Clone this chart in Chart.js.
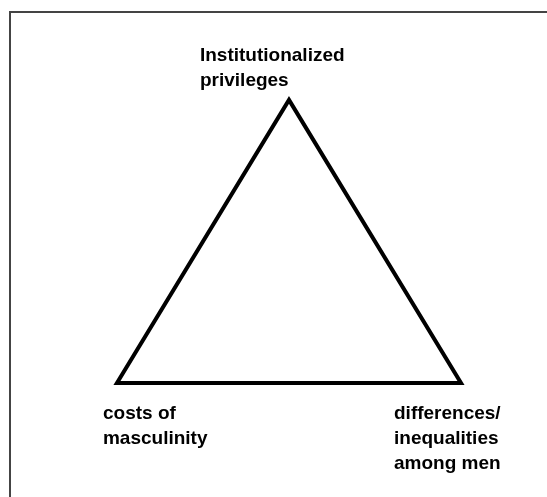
<!DOCTYPE html>
<html>
<head>
<meta charset="utf-8">
<script src="https://cdn.jsdelivr.net/npm/chart.js@4"></script>
<style>
  body { margin: 0; background: #fff; }
  #wrap { position: relative; width: 547px; height: 497px; }
</style>
</head>
<body>
<div id="wrap"><canvas id="mycanvas" width="547" height="497"></canvas></div>
<script>
// triangle corners (apex, bottom right, bottom left) in diagram units
var cornerNames = ['apex', 'right', 'left'];
var cornerX = [0, 1, -1];
var cornerY = [1, 0, 0];
// text at each corner, one entry per line
var cornerLabels = [
  ['Institutionalized', 'privileges'],
  ['differences/', 'inequalities', 'among men'],
  ['costs of', 'masculinity']
];

// offsets of each label block from its corner (px)
var labelOffset = {
  apex: { dx: -89, dy: -39 },
  right: { dx: -67, dy: 36 },
  left: { dx: -14, dy: 36 }
};

var points = [];
for (var i = 0; i < cornerX.length; i++) {
  points.push({ x: cornerX[i], y: cornerY[i] });
}
// go round once more so every corner gets a proper join
points.push({ x: cornerX[0], y: cornerY[0] });
points.push({ x: cornerX[1], y: cornerY[1] });

var framePlugin = {
  id: 'frame',
  beforeDraw: function(chart) {
    var c = chart.ctx;
    c.save();
    c.strokeStyle = '#444';
    c.lineWidth = 2;
    c.beginPath();
    c.moveTo(10, 497);
    c.lineTo(10, 12);
    c.lineTo(547, 12);
    c.stroke();
    c.restore();
  }
};

var labelPlugin = {
  id: 'cornerLabels',
  afterDraw: function(chart) {
    var c = chart.ctx;
    var xs = chart.scales.x, ys = chart.scales.y;
    c.save();
    c.fillStyle = '#000';
    c.font = 'bold 19px "Liberation Sans", Arial, sans-serif';
    c.textAlign = 'left';
    c.textBaseline = 'alphabetic';
    for (var i = 0; i < cornerLabels.length; i++) {
      var off = labelOffset[cornerNames[i]];
      var px = xs.getPixelForValue(cornerX[i]) + off.dx;
      var py = ys.getPixelForValue(cornerY[i]) + off.dy;
      for (var j = 0; j < cornerLabels[i].length; j++) {
        c.fillText(cornerLabels[i][j], px, py + j * 25);
      }
    }
    c.restore();
  }
};

var ctx = document.getElementById('mycanvas');
var chart = new Chart(ctx, {
  type: 'scatter',
  data: {
    datasets: [{
      data: points,
      showLine: true,
      borderColor: '#000',
      borderWidth: 4,
      borderJoinStyle: 'miter',
      borderCapStyle: 'butt',
      pointRadius: 0,
      pointHoverRadius: 0,
      fill: false,
      tension: 0
    }]
  },
  options: {
    responsive: false,
    animation: false,
    layout: { padding: 0 },
    plugins: { legend: { display: false }, tooltip: { enabled: false } },
    scales: {
      x: { type: 'linear', min: -1.68, max: 1.5, display: false },
      y: { type: 'linear', min: -0.403, max: 1.353, display: false }
    }
  },
  plugins: [framePlugin, labelPlugin]
});
</script>
</body>
</html>
